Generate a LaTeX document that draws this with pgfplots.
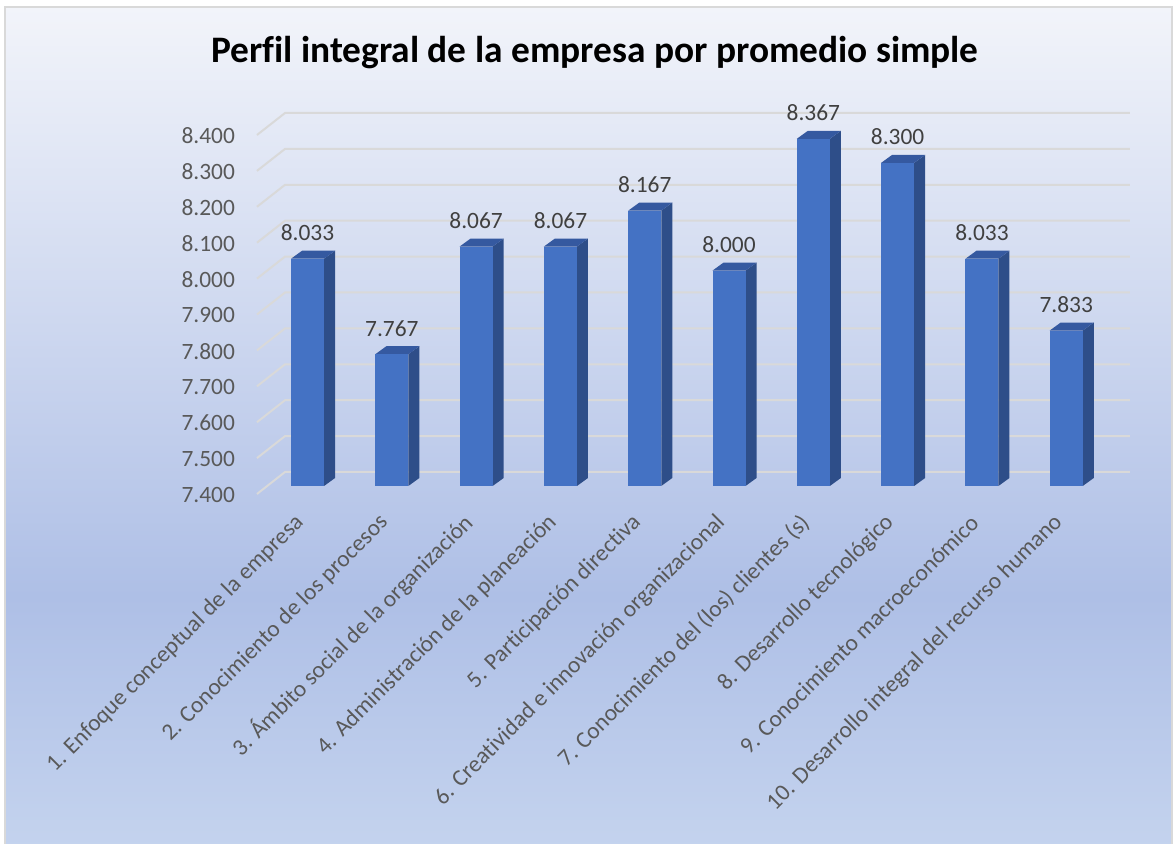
\documentclass[border=0pt]{standalone}
\usepackage{fontspec}
\setmainfont{Carlito}[Ligatures=NoCommon]
\usepackage{pgfplots}
\usepackage{pgfplotstable}
\pgfplotsset{compat=1.18}

\definecolor{barfront}{HTML}{4472C4}
\definecolor{barside}{HTML}{2E4E89}
\definecolor{bartop}{HTML}{3559A0}
\definecolor{gridc}{HTML}{D9D9D9}
\definecolor{tickc}{HTML}{595959}
\definecolor{labc}{HTML}{404040}
\definecolor{bgtop}{HTML}{F2F4FA}
\definecolor{bgmid}{HTML}{AEBFE6}
\definecolor{bgbot}{HTML}{C4D3EE}
\pgfdeclareverticalshading{bgshade}{100bp}{color(0bp)=(bgbot); color(25bp)=(bgbot); color(40bp)=(bgmid); color(75bp)=(bgtop); color(100bp)=(bgtop)}

\pgfplotstableread{
x v
0 8.033
1 7.767
2 8.067
3 8.067
4 8.167
5 8.000
6 8.367
7 8.300
8 8.033
9 7.833
}\datatable

\newcommand\bw{0.392}
\newcommand\ddx{0.1306}
\newcommand\ddy{0.0223}

\begin{document}
\begin{tikzpicture}
\useasboundingbox (0,0) rectangle (587.5pt,422pt);
\fill[white] (0,0) rectangle (587.5pt,422pt);
\shade[shading=bgshade] (2.5pt,-2pt) rectangle (586pt,418.5pt);
\draw[gridc, line width=0.75pt] (2.5pt,-2pt) rectangle (586pt,418.5pt);
\node[font=\bfseries\fontsize{18.7}{22}\selectfont, anchor=base] at (297.5pt,390.5pt) {Perfil integral de la empresa por promedio simple};
\begin{axis}[
  at={(133.5pt,179pt)}, anchor=south west,
  scale only axis, width=422.5pt, height=179.5pt,
  xmin=-0.481, xmax=9.543, ymin=7.4, ymax=8.4,
  clip=false,
  axis line style={draw=none},
  major tick length=0pt,
  /pgf/number format/assume math mode=true,
  ytick={7.4,7.5,7.6,7.7,7.8,7.9,8.0,8.1,8.2,8.3,8.4},
  yticklabel={\pgfmathprintnumber[fixed,fixed zerofill,precision=3]{\tick}},
  yticklabel style={font=\fontsize{11.7}{13}\selectfont, text=tickc, yshift=-4.5pt, xshift=-12.5pt},
  xtick={0,1,2,3,4,5,6,7,8,9},
  xticklabels={
    1. Enfoque conceptual de la empresa,
    2. Conocimiento de los procesos,
    3. Ámbito social de la organización,
    4. Administración de la planeación,
    5. Participación directiva,
    6. Creatividad e innovación organizacional,
    7. Conocimiento del (los) clientes (s),
    8. Desarrollo tecnológico,
    9. Conocimiento macroeconómico,
    10. Desarrollo integral del recurso humano},
  xticklabel style={xshift=-1.25pt, yshift=-14pt, rotate=45, anchor=east, font=\fontsize{11.7}{14}\selectfont, text=tickc},
]
\pgfplotsinvokeforeach{7.4,7.5,7.6,7.7,7.8,7.9,8.0,8.1,8.2,8.3,8.4}{
  \draw[gridc, line width=1pt] (axis cs:-0.600,#1-0.0223) -- (axis cs:-0.267,#1+0.039) -- (axis cs:9.754,#1+0.039);
}
\pgfplotsinvokeforeach{0,...,9}{
  \pgfplotstablegetelem{#1}{v}\of\datatable
  \let\val\pgfplotsretval
  \pgfmathsetmacro\xl{#1-\bw/2}
  \pgfmathsetmacro\xr{#1+\bw/2}
  \pgfmathsetmacro\xlr{\xl+\ddx}
  \pgfmathsetmacro\xrr{\xr+\ddx}
  \pgfmathsetmacro\vt{\val+\ddy}
  \pgfmathsetmacro\bb{7.4+\ddy}
  \edef\temp{\noexpand\addplot[fill=barside, draw=none, forget plot] coordinates {(\xr,7.4) (\xrr,\bb) (\xrr,\vt) (\xr,\val)};
    \noexpand\addplot[fill=bartop, draw=none, forget plot] coordinates {(\xl,\val) (\xlr,\vt) (\xrr,\vt) (\xr,\val)};
    \noexpand\addplot[fill=barfront, draw=none, forget plot] coordinates {(\xl,7.4) (\xl,\val) (\xr,\val) (\xr,7.4)};}
  \temp
}
\addplot[draw=none, mark=none, point meta=y,
  nodes near coords={\pgfmathprintnumber[fixed,fixed zerofill,precision=3]{\pgfplotspointmeta}},
  nodes near coords style={font=\fontsize{11.7}{13}\selectfont, text=labc, anchor=base, yshift=9pt}]
  table[x=x,y=v]{\datatable};
\end{axis}
\end{tikzpicture}
\end{document}
